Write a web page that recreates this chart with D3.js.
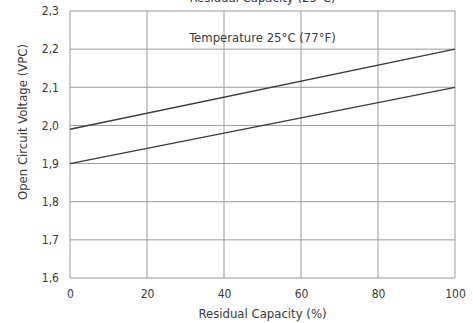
<!DOCTYPE html>
<html>
<head>
<meta charset="utf-8">
<script src="https://cdn.jsdelivr.net/npm/d3@7"></script>
<style>
  body { margin: 0; background: #fff; }
  text { font-family: "DejaVu Sans Condensed", "DejaVu Sans", sans-serif; fill: #3a3a3a; }
</style>
</head>
<body>
<div id="chart"></div>
<script>
var svgWidth = 473;
var svgHeight = 323;

var margin = { top: 11, right: 18, bottom: 45, left: 70 };
var width = svgWidth - margin.left - margin.right;
var height = svgHeight - margin.top - margin.bottom;

// data
var capacity = [0, 100];
var upperVoltage = [1.99, 2.2];
var lowerVoltage = [1.9, 2.1];
var xTicks = [0, 20, 40, 60, 80, 100];
var yTicks = [1.6, 1.7, 1.8, 1.9, 2.0, 2.1, 2.2, 2.3];

var svg = d3.select("#chart").append("svg")
  .attr("width", svgWidth)
  .attr("height", svgHeight);

var chartGroup = svg.append("g")
  .attr("transform", `translate(${margin.left}, ${margin.top})`);

var xScale = d3.scaleLinear().domain([0, 100]).range([0, width]);
var yScale = d3.scaleLinear().domain([1.6, 2.3]).range([height, 0]);

// grid
chartGroup.selectAll(".vgrid")
  .data(xTicks)
  .enter()
  .append("line")
  .attr("x1", d => xScale(d))
  .attr("x2", d => xScale(d))
  .attr("y1", 0)
  .attr("y2", height)
  .attr("stroke", "#9a9a9a")
  .attr("stroke-width", 1);

chartGroup.selectAll(".hgrid")
  .data(yTicks)
  .enter()
  .append("line")
  .attr("x1", 0)
  .attr("x2", width)
  .attr("y1", d => yScale(d))
  .attr("y2", d => yScale(d))
  .attr("stroke", "#9a9a9a")
  .attr("stroke-width", 1);

// axes (labels only)
var bottomAxis = d3.axisBottom(xScale).tickValues(xTicks).tickSize(0).tickPadding(11);
var leftAxis = d3.axisLeft(yScale).tickValues(yTicks).tickSize(0).tickPadding(11)
  .tickFormat(d => d3.format(".1f")(d).replace(".", ","));

var xAxis = chartGroup.append("g")
  .attr("transform", `translate(0, ${height})`)
  .call(bottomAxis);
var yAxis = chartGroup.append("g").call(leftAxis);

[xAxis, yAxis].forEach(function(ax) {
  ax.select(".domain").remove();
  ax.selectAll("text")
    .attr("font-size", "12px")
    .style("font-family", "'DejaVu Sans Condensed', 'DejaVu Sans', sans-serif")
    .attr("fill", "#3a3a3a");
});

// lines
var line = d3.line()
  .x(d => xScale(d[0]))
  .y(d => yScale(d[1]));

[upperVoltage, lowerVoltage].forEach(function(series) {
  chartGroup.append("path")
    .datum(capacity.map((c, i) => [c, series[i]]))
    .attr("d", line)
    .attr("fill", "none")
    .attr("stroke", "#3a3a3a")
    .attr("stroke-width", 1.3);
});

// texts
chartGroup.append("text")
  .attr("x", width / 2)
  .attr("y", 31)
  .attr("text-anchor", "middle")
  .attr("font-size", "13px")
  .text("Temperature 25°C (77°F)");

// title, cut off by the top edge as in the source image
svg.append("text")
  .attr("x", margin.left + width / 2)
  .attr("y", 2)
  .attr("text-anchor", "middle")
  .attr("font-size", "13px")
  .text("Residual Capacity (25°C)");

svg.append("text")
  .attr("x", margin.left + width / 2)
  .attr("y", 318)
  .attr("text-anchor", "middle")
  .attr("font-size", "13px")
  .text("Residual Capacity (%)");

svg.append("text")
  .attr("transform", "rotate(-90)")
  .attr("x", -122)
  .attr("y", 27)
  .attr("text-anchor", "middle")
  .attr("font-size", "13px")
  .text("Open Circuit Voltage (VPC)");
</script>
</body>
</html>
